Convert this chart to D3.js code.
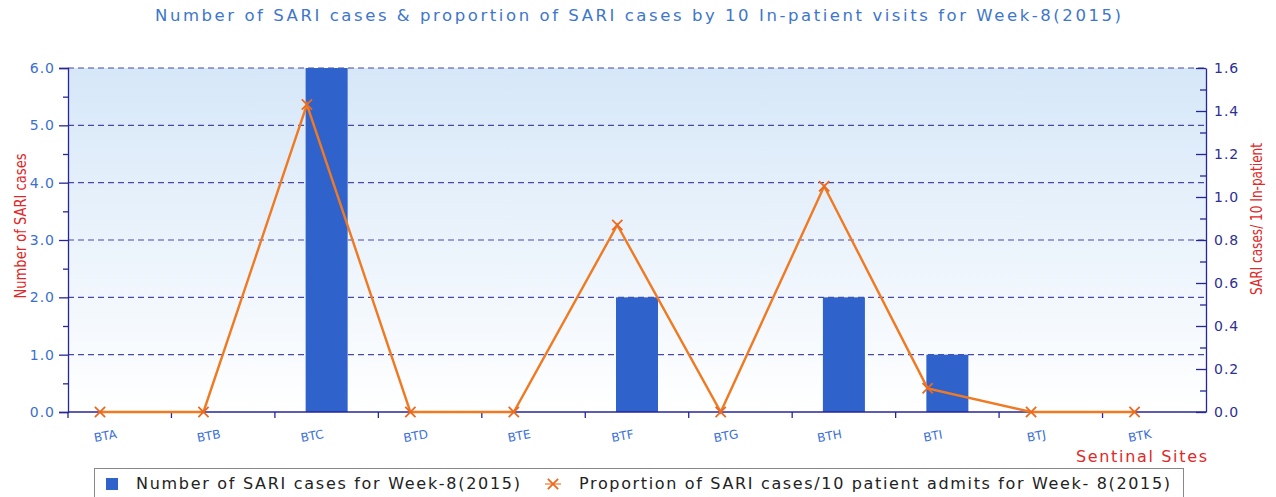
<!DOCTYPE html>
<html>
<head>
<meta charset="utf-8">
<script src="https://cdn.jsdelivr.net/npm/d3@7"></script>
<style>
  body { margin: 0; background: #fff; }
  text { font-family: "DejaVu Sans", sans-serif; }
</style>
</head>
<body>
<svg id="chart"></svg>
<script>
// data
var sites = ["BTA", "BTB", "BTC", "BTD", "BTE", "BTF", "BTG", "BTH", "BTI", "BTJ", "BTK"];
var cases = [0, 0, 6, 0, 0, 2, 0, 2, 1, 0, 0];
var proportion = [0, 0, 1.43, 0, 0, 0.87, 0, 1.05, 0.11, 0, 0];
var leftTicks = [0, 1, 2, 3, 4, 5, 6];
var rightTicks = [0, 0.2, 0.4, 0.6, 0.8, 1.0, 1.2, 1.4, 1.6];

var width = 1276,
    height = 497,
    plotL = 68,
    plotR = 1206,
    plotT = 68,
    plotB = 412;

var svg = d3.select("#chart")
    .attr("width", width)
    .attr("height", height);

var x = d3.scaleBand()
    .domain(sites)
    .range([plotL, plotR]);

var y = d3.scaleLinear().domain([0, 6]).range([plotB, plotT]);
var y2 = d3.scaleLinear().domain([0, 1.6]).range([plotB, plotT]);

// background gradient
var grad = svg.append("defs").append("linearGradient")
    .attr("id", "bg")
    .attr("x1", 0).attr("y1", 0).attr("x2", 0).attr("y2", 1);
grad.append("stop").attr("offset", "0%").attr("stop-color", "#d6e7f8");
grad.append("stop").attr("offset", "100%").attr("stop-color", "#ffffff");

svg.append("rect")
    .attr("x", plotL)
    .attr("y", plotT)
    .attr("width", plotR - plotL)
    .attr("height", plotB - plotT)
    .attr("fill", "url(#bg)");

// dashed grid
svg.append("g")
    .selectAll("line")
    .data(leftTicks.slice(1))
    .enter().append("line")
    .attr("x1", plotL).attr("x2", plotR)
    .attr("y1", function(d) { return y(d); })
    .attr("y2", function(d) { return y(d); })
    .attr("stroke", "#4848a8")
    .attr("stroke-width", 1.2)
    .attr("stroke-dasharray", "6,4");

// bars
var barW = 42;
svg.append("g")
    .selectAll("rect")
    .data(sites)
    .enter().append("rect")
    .attr("x", function(d) { return x(d) + x.bandwidth() / 2 - barW / 2; })
    .attr("width", barW)
    .attr("y", function(d, i) { return y(cases[i]); })
    .attr("height", function(d, i) { return y(0) - y(cases[i]); })
    .attr("fill", "#3062cc");

// left axis
var leftAxis = svg.append("g")
    .attr("transform", "translate(" + plotL + ",0)")
    .call(d3.axisLeft(y).tickValues(leftTicks).tickFormat(d3.format(".1f")).tickSize(9).tickPadding(4));
svg.append("g")
    .attr("transform", "translate(" + plotL + ",0)")
    .call(d3.axisLeft(y).tickValues(d3.range(0.5, 6, 1)).tickFormat("").tickSize(5))
    .select(".domain").remove();

// right axis
var rightAxis = svg.append("g")
    .attr("transform", "translate(" + plotR + ",0)")
    .call(d3.axisRight(y2).tickValues(rightTicks).tickFormat(d3.format(".1f")).tickSizeInner(-10).tickSizeOuter(0));
svg.append("g")
    .attr("transform", "translate(" + plotR + ",0)")
    .call(d3.axisRight(y2).tickValues(d3.range(0.1, 1.6, 0.2)).tickFormat("").tickSizeInner(-6).tickSizeOuter(0))
    .select(".domain").remove();

// bottom axis, ticks at category boundaries
svg.append("line")
    .attr("x1", plotL).attr("x2", plotR)
    .attr("y1", plotB).attr("y2", plotB)
    .attr("stroke", "#26269a").attr("stroke-width", 1.3);
svg.append("g")
    .selectAll("line")
    .data(sites)
    .enter().append("line")
    .attr("x1", function(d) { return x(d); }).attr("x2", function(d) { return x(d); })
    .attr("y1", plotB).attr("y2", plotB + 6)
    .attr("stroke", "#26269a").attr("stroke-width", 1.3);

svg.selectAll(".domain, .tick line")
    .attr("stroke", "#26269a")
    .attr("stroke-width", 1.3);

leftAxis.selectAll("text")
    .attr("fill", "#3a6fd0")
    .style("font-size", "14px")
    .style("letter-spacing", "1px");
rightAxis.selectAll(".tick text")
    .attr("x", 8)
    .attr("fill", "#2e2e96")
    .style("font-size", "14px")
    .style("letter-spacing", "1px");

// category labels
svg.append("g")
    .selectAll("text")
    .data(sites)
    .enter().append("text")
    .attr("transform", function(d) {
      return "translate(" + (x(d) + 38) + "," + (plotB + 28) + ") rotate(-10)";
    })
    .attr("text-anchor", "middle")
    .attr("fill", "#3a6fd8")
    .style("font-size", "12px")
    .text(function(d) { return d; });

// proportion line
var px = function(d, i) { return x(sites[i]) + 32; };
var line = d3.line()
    .x(px)
    .y(function(d) { return y2(d); });

svg.append("path")
    .datum(proportion)
    .attr("d", line)
    .attr("fill", "none")
    .attr("stroke", "#f07a22")
    .attr("stroke-width", 2.4);

var cross = d3.symbol().type(d3.symbolX).size(70);
svg.append("g")
    .selectAll("path")
    .data(proportion)
    .enter().append("path")
    .attr("d", cross)
    .attr("transform", function(d, i) { return "translate(" + px(d, i) + "," + y2(d) + ")"; })
    .attr("fill", "none")
    .attr("stroke", "#ea6a20")
    .attr("stroke-width", 1.8);

// titles
svg.append("text")
    .attr("x", 638)
    .attr("y", 21)
    .attr("text-anchor", "middle")
    .attr("fill", "#3d76cc")
    .style("font-size", "16.5px")
    .attr("textLength", 966)
    .attr("lengthAdjust", "spacing")
    .text("Number of SARI cases & proportion of SARI cases by 10 In-patient visits for Week-8(2015)");

svg.append("text")
    .attr("transform", "translate(26,226) rotate(-90)")
    .attr("text-anchor", "middle")
    .attr("fill", "#e02828")
    .style("font-size", "16px")
    .attr("textLength", 145)
    .attr("lengthAdjust", "spacingAndGlyphs")
    .text("Number of SARI cases");

svg.append("text")
    .attr("transform", "translate(1262,219) rotate(-90)")
    .attr("text-anchor", "middle")
    .attr("fill", "#e02828")
    .style("font-size", "16px")
    .attr("textLength", 152)
    .attr("lengthAdjust", "spacingAndGlyphs")
    .text("SARI cases/ 10 In-patient");

svg.append("text")
    .attr("x", 1207)
    .attr("y", 462)
    .attr("text-anchor", "end")
    .attr("fill", "#e02828")
    .style("font-size", "16px")
    .attr("textLength", 131)
    .attr("lengthAdjust", "spacing")
    .text("Sentinal Sites");

// legend
var legend = svg.append("g");
legend.append("rect")
    .attr("x", 94.5).attr("y", 468.5)
    .attr("width", 1089).attr("height", 40)
    .attr("fill", "#fff")
    .attr("stroke", "#888")
    .attr("stroke-width", 1);
legend.append("rect")
    .attr("x", 106).attr("y", 478)
    .attr("width", 12).attr("height", 12)
    .attr("fill", "#3062cc");
legend.append("text")
    .attr("x", 136).attr("y", 489)
    .attr("fill", "#222")
    .style("font-size", "16px")
    .attr("textLength", 384)
    .attr("lengthAdjust", "spacing")
    .text("Number of SARI cases for Week-8(2015)");
legend.append("line")
    .attr("x1", 545).attr("x2", 561)
    .attr("y1", 484).attr("y2", 484)
    .attr("stroke", "#f07a22")
    .attr("stroke-width", 1.2);
legend.append("path")
    .attr("d", cross)
    .attr("transform", "translate(553,484)")
    .attr("fill", "none")
    .attr("stroke", "#ea6a20")
    .attr("stroke-width", 1.8);
legend.append("text")
    .attr("x", 579).attr("y", 489)
    .attr("fill", "#222")
    .style("font-size", "16px")
    .attr("textLength", 591)
    .attr("lengthAdjust", "spacing")
    .text("Proportion of SARI cases/10 patient admits for Week- 8(2015)");
</script>
</body>
</html>
